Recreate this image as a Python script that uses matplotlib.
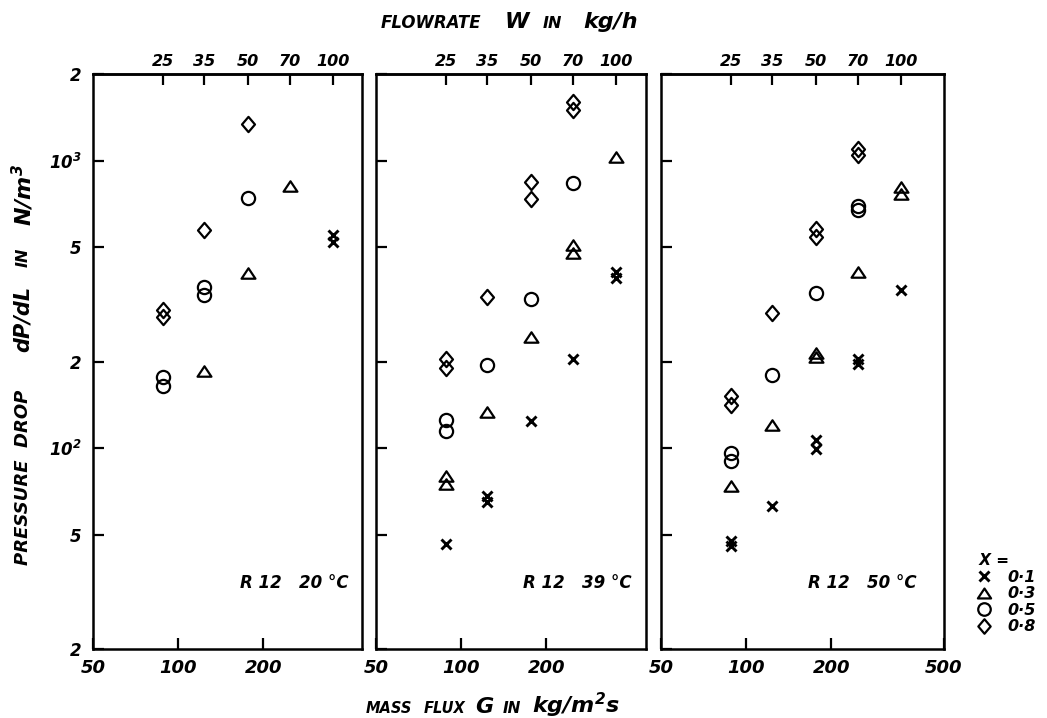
import numpy as np
import matplotlib
matplotlib.use("Agg")
import matplotlib.pyplot as plt
from matplotlib.path import Path
from matplotlib.ticker import FixedLocator, FixedFormatter, NullLocator

plt.rcParams.update({
    "font.family": "DejaVu Sans",
    "font.style": "oblique",
    "font.weight": "bold",
    "mathtext.fontset": "custom",
    "mathtext.rm": "DejaVu Sans:italic:bold",
    "mathtext.it": "DejaVu Sans:italic:bold",
    "mathtext.bf": "DejaVu Sans:italic:bold",
    "mathtext.sf": "DejaVu Sans:italic:bold",
    "axes.linewidth": 1.8,
})

# tube bore 10 mm -> G = W / (3600 * A)
D_TUBE = 0.010
AREA = np.pi * D_TUBE ** 2 / 4.0


def w_to_g(w):
    return np.asarray(w, dtype=float) / (3600.0 * AREA)


def g_to_w(g):
    return np.asarray(g, dtype=float) * 3600.0 * AREA


# ---- data: flowrate W (kg/h) and pressure drop dP/dL (N/m^3) -------------
# R12, 20 C
t20_x01_w = [100, 100]
t20_x01_dp = [550, 520]
t20_x03_w = [35, 50, 70]
t20_x03_dp = [185, 406, 813]
t20_x05_w = [25, 25, 35, 35, 50]
t20_x05_dp = [176, 164, 364, 341, 738]
t20_x08_w = [25, 25, 35, 50]
t20_x08_dp = [303, 286, 573, 1343]

# R12, 39 C
t39_x01_w = [25, 35, 35, 50, 70, 100, 100]
t39_x01_dp = [46.5, 68, 65, 124, 204, 410, 391]
t39_x03_w = [25, 25, 35, 50, 70, 70, 100]
t39_x03_dp = [80, 75, 134, 243, 507, 476, 1025]
t39_x05_w = [25, 25, 35, 50, 70]
t39_x05_dp = [125, 115, 195, 330, 835]
t39_x08_w = [25, 25, 35, 50, 50, 70, 70]
t39_x08_dp = [204, 190, 335, 840, 736, 1597, 1503]

# R12, 50 C
t50_x01_w = [25, 25, 35, 50, 50, 70, 70, 100]
t50_x01_dp = [47.5, 45.5, 63, 107, 99, 204, 196, 355]
t50_x03_w = [25, 35, 50, 50, 70, 100, 100]
t50_x03_dp = [74, 120, 214, 208, 410, 807, 765]
t50_x05_w = [25, 25, 35, 50, 70, 70]
t50_x05_dp = [96, 90, 180, 346, 693, 673]
t50_x08_w = [25, 25, 35, 50, 50, 70, 70]
t50_x08_dp = [152, 141, 295, 578, 543, 1096, 1047]

panel_titles = ["R 12   20 °C", "R 12   39 °C", "R 12   50 °C"]
quality_labels = ["0·1", "0·3", "0·5", "0·8"]
flow_ticks = [25, 35, 50, 70, 100]
dp_ticks = [20, 50, 100, 200, 500, 1000, 2000]
dp_ticklabels = ["2", "5", "$10^2$", "2", "5", "$10^3$", "2"]

panels = [
    [(t20_x01_w, t20_x01_dp), (t20_x03_w, t20_x03_dp),
     (t20_x05_w, t20_x05_dp), (t20_x08_w, t20_x08_dp)],
    [(t39_x01_w, t39_x01_dp), (t39_x03_w, t39_x03_dp),
     (t39_x05_w, t39_x05_dp), (t39_x08_w, t39_x08_dp)],
    [(t50_x01_w, t50_x01_dp), (t50_x03_w, t50_x03_dp),
     (t50_x05_w, t50_x05_dp), (t50_x08_w, t50_x08_dp)],
]

# ---- marker shapes --------------------------------------------------------
C = [Path.MOVETO, Path.LINETO, Path.LINETO, Path.CLOSEPOLY]
TRI = Path([(0, 0.75), (-1, -0.75), (1, -0.75), (0, 0)], C)
DIA = Path([(0, 1), (0.85, 0), (0, -1), (-0.85, 0), (0, 0)],
           [Path.MOVETO, Path.LINETO, Path.LINETO, Path.LINETO, Path.CLOSEPOLY])
styles = [
    dict(marker="x", ms=7.5, mew=2.1),
    dict(marker=TRI, ms=10, mew=1.6),
    dict(marker="o", ms=9.5, mew=1.6),
    dict(marker=DIA, ms=11, mew=1.6),
]

# ---- layout (figure pixels -> fractions) ----------------------------------
W_PX, H_PX = 1047, 718
fig = plt.figure(figsize=(W_PX / 100, H_PX / 100), dpi=100)


def fx(px):
    return px / W_PX


def fy(py):
    return 1 - py / H_PX


ax_top, ax_bot = 74, 649
boxes = [(93, 362, 446), (376, 646, 450), (661, 944, 500)]

axes = []
for i, (x0, x1, gmax) in enumerate(boxes):
    ax = fig.add_axes([fx(x0), fy(ax_bot), fx(x1 - x0), (ax_bot - ax_top) / H_PX])
    ax.set_xscale("log")
    ax.set_yscale("log")
    ax.set_xlim(50, gmax)
    ax.set_ylim(20, 2000)

    handles = []
    for (w, dp), st in zip(panels[i], styles):
        h, = ax.plot(w_to_g(w), dp, ls="none", color="black",
                     mfc="none", mec="black", **st)
        handles.append(h)

    gt = [50, 100, 200] if i < 2 else [50, 100, 200, 500]
    ax.xaxis.set_major_locator(FixedLocator(gt))
    ax.xaxis.set_major_formatter(FixedFormatter([str(v) for v in gt]))
    ax.xaxis.set_minor_locator(NullLocator())
    ax.yaxis.set_major_locator(FixedLocator(dp_ticks))
    ax.yaxis.set_major_formatter(FixedFormatter(dp_ticklabels))
    ax.yaxis.set_minor_locator(NullLocator())
    ax.tick_params(axis="x", which="major", direction="in", length=8,
                   width=1.6, labelsize=13, pad=7, top=False)
    ax.tick_params(axis="y", which="major", direction="in", length=8,
                   width=1.6, labelsize=12, pad=8, right=False,
                   labelleft=(i == 0))

    sec = ax.secondary_xaxis("top", functions=(g_to_w, w_to_g))
    sec.xaxis.set_major_locator(FixedLocator(flow_ticks))
    sec.xaxis.set_major_formatter(FixedFormatter([str(v) for v in flow_ticks]))
    sec.xaxis.set_minor_locator(NullLocator())
    sec.tick_params(axis="x", which="major", direction="in", length=8,
                    width=1.6, labelsize=11.5, pad=3.5)
    sec.spines["top"].set_linewidth(1.8)

    ax.text(400, 34, panel_titles[i], ha="right", va="center", fontsize=12)
    axes.append((ax, handles))

# legend for vapour quality
ax3, h3 = axes[2]
leg = ax3.legend(h3, quality_labels, title=" X =", loc="upper left",
                 bbox_to_anchor=(fx(974), fy(553)), bbox_transform=fig.transFigure,
                 frameon=False, fontsize=11.5, title_fontsize=11, alignment="left",
                 handlelength=1.2, handletextpad=0.9, labelspacing=0.1,
                 borderpad=0, borderaxespad=0, markerscale=0.95)

# ---- axis titles with mixed lettering sizes -------------------------------
BIG = 16
top_parts = [("FLOWRATE", 381, 12), ("W", 505, BIG), ("IN", 543, 11.5), ("kg/h", 583, BIG)]
for s, x, size in top_parts:
    fig.text(fx(x), fy(28), s, fontsize=size, ha="left", va="baseline")

bot_parts = [("MASS", 366, 10.5), ("FLUX", 424, 10.5), ("G", 475, BIG),
             ("IN", 503, 11), ("kg/m$^2$s", 532, BIG)]
for s, x, size in bot_parts:
    fig.text(fx(x), fy(713), s, fontsize=size, ha="left", va="baseline")

y_parts = [("PRESSURE  DROP", 565, 13), ("dP/dL", 352, 15),
           ("IN", 267, 11.5), ("N/m$^3$", 226, 16)]
for s, y, size in y_parts:
    fig.text(fx(23), fy(y), s, fontsize=size, rotation=90,
             ha="center", va="bottom")

fig.savefig("out.png", dpi=100)
